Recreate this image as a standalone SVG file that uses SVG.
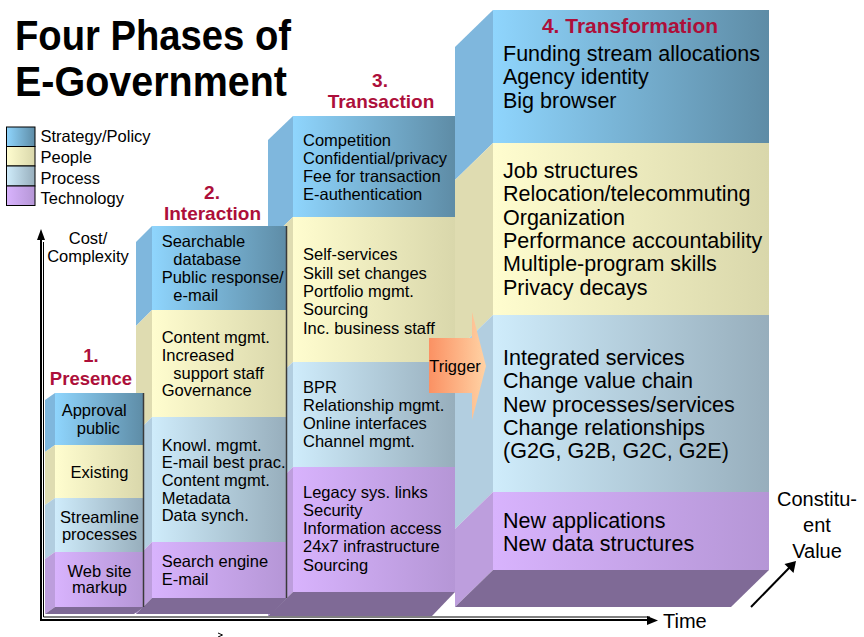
<svg xmlns="http://www.w3.org/2000/svg" width="864" height="637" viewBox="0 0 864 637">
<defs>
<linearGradient id="gS" x1="0" y1="0" x2="1" y2="0"><stop offset="0" stop-color="#8fd5fd"/><stop offset="1" stop-color="#5e8ca6"/></linearGradient>
<linearGradient id="gP" x1="0" y1="0" x2="1" y2="0"><stop offset="0" stop-color="#fffdcf"/><stop offset="1" stop-color="#d9d7ab"/></linearGradient>
<linearGradient id="gR" x1="0" y1="0" x2="1" y2="0"><stop offset="0" stop-color="#cfecfb"/><stop offset="1" stop-color="#97aebc"/></linearGradient>
<linearGradient id="gT" x1="0" y1="0" x2="1" y2="0"><stop offset="0" stop-color="#d8b3fd"/><stop offset="1" stop-color="#b596d6"/></linearGradient>
<linearGradient id="gTr" x1="0" y1="0" x2="1" y2="0"><stop offset="0" stop-color="#fb9163"/><stop offset="1" stop-color="#ffd2a4"/></linearGradient>
</defs>
<style>
.t{font-family:"Liberation Sans",Arial,sans-serif;font-size:16.5px;fill:#000}
.b{font-size:21.5px}
.c{text-anchor:middle}
.lab{font-family:"Liberation Sans",Arial,sans-serif;font-weight:bold;fill:#ad0f3a;font-size:19px;text-anchor:middle}
.fS{fill:url(#gS)}.fP{fill:url(#gP)}.fR{fill:url(#gR)}.fT{fill:url(#gT)}
.sS{fill:#7fb7dd}.sP{fill:#dfdcb1}.sR{fill:#b2cee0}.sT{fill:#bd9edd}
.bot{fill:#7f6a96}
.edge{stroke:#3a3a3a;stroke-width:1.5;fill:none}
.ax{stroke:#000;fill:none}
</style>
<rect width="864" height="637" fill="#fff"/>

<g id="title">
<text class="t" x="15" y="49.5" style="font-size:42px;font-weight:bold" textLength="276" lengthAdjust="spacingAndGlyphs">Four Phases of</text>
<text class="t" x="15" y="96" style="font-size:42px;font-weight:bold" textLength="272" lengthAdjust="spacingAndGlyphs">E-Government</text>
</g>

<g id="legend">
<rect class="fS" x="6.5" y="127" width="28.5" height="19.5" stroke="#000" stroke-width="1"/>
<rect class="fP" x="6.5" y="146.5" width="28.5" height="19.5" stroke="#000" stroke-width="1"/>
<rect class="fR" x="6.5" y="166" width="28.5" height="20" stroke="#000" stroke-width="1"/>
<rect class="fT" x="6.5" y="186" width="28.5" height="19.5" stroke="#000" stroke-width="1"/>
<text class="t" x="40.5" y="142">Strategy/Policy</text>
<text class="t" x="40.5" y="163">People</text>
<text class="t" x="40.5" y="183.5">Process</text>
<text class="t" x="40.5" y="204">Technology</text>
</g>

<g id="axes">
<path class="ax" d="M41,620 V238" stroke-width="2"/>
<path d="M41,229 L45,240 L37,240 z" fill="#000"/>
<path class="ax" d="M43.5,242 V617 H650" stroke-width="1"/>
<path class="ax" d="M40,620 H652" stroke-width="2"/>
<path d="M658,620.5 L647,616 L647,625 z" fill="#000"/>
<path class="ax" d="M751,607 L790,567" stroke-width="2"/>
<path d="M796,561 L793.5,573 L784.5,564 z" fill="#000"/>
<path class="ax" d="M218,633 L222.5,635 L218,637" stroke-width="1"/>
<text class="t" x="88" y="244" text-anchor="middle">Cost/</text>
<text class="t" x="88" y="262" text-anchor="middle">Complexity</text>
<text class="t" x="663" y="628" style="font-size:20px">Time</text>
<text class="t c" x="817" y="506" style="font-size:20px">Constitu-</text>
<text class="t c" x="817" y="532" style="font-size:20px">ent</text>
<text class="t c" x="817" y="558" style="font-size:20px">Value</text>
</g>

<g id="phase4">
<polygon class="sS" points="493,10 455,47 455,180 493,143"/>
<polygon class="sP" points="493,143 455,180 455,352 493,315"/>
<polygon class="sR" points="493,315 455,352 455,529 493,492"/>
<polygon class="sT" points="493,492 455,529 455,607 493,570"/>
<polygon class="bot" points="493,570 769,570 731,607 455,607"/>
<rect class="fS" x="493" y="10" width="276" height="133"/>
<rect class="fP" x="493" y="143" width="276" height="172"/>
<rect class="fR" x="493" y="315" width="276" height="177"/>
<rect class="fT" x="493" y="492" width="276" height="78"/>
<text class="lab" x="630" y="32.5" style="font-size:21px">4. Transformation</text>
<text class="t b" x="503" y="61">Funding stream allocations</text>
<text class="t b" x="503" y="84.3">Agency identity</text>
<text class="t b" x="503" y="107.6">Big browser</text>
<text class="t b" x="503" y="178">Job structures</text>
<text class="t b" x="503" y="201.3">Relocation/telecommuting</text>
<text class="t b" x="503" y="224.6">Organization</text>
<text class="t b" x="503" y="248">Performance accountability</text>
<text class="t b" x="503" y="271.3">Multiple-program skills</text>
<text class="t b" x="503" y="294.6">Privacy decays</text>
<text class="t b" x="503" y="365">Integrated services</text>
<text class="t b" x="503" y="388.3">Change value chain</text>
<text class="t b" x="503" y="411.6">New processes/services</text>
<text class="t b" x="503" y="435">Change relationships</text>
<text class="t b" x="503" y="458.3">(G2G, G2B, G2C, G2E)</text>
<text class="t b" x="503" y="527.7">New applications</text>
<text class="t b" x="503" y="550.5">New data structures</text>
</g>

<g id="phase3">
<polygon class="sS" points="293,116 268,140 268,241 293,217"/>
<polygon class="sP" points="293,217 268,241 268,386 293,362"/>
<polygon class="sR" points="293,362 268,386 268,491 293,467"/>
<polygon class="sT" points="293,467 268,491 268,616 293,592"/>
<polygon class="bot" points="293,592 455,592 432,616 268,616"/>
<rect class="fS" x="293" y="116" width="162" height="101"/>
<rect class="fP" x="293" y="217" width="162" height="145"/>
<rect class="fR" x="293" y="362" width="162" height="105"/>
<rect class="fT" x="293" y="467" width="162" height="125"/>
<text class="lab" x="380" y="87">3.</text>
<text class="lab" x="381" y="108">Transaction</text>
<text class="t" x="303" y="145.5">Competition</text>
<text class="t" x="303" y="163.8">Confidential/privacy</text>
<text class="t" x="303" y="182">Fee for transaction</text>
<text class="t" x="303" y="200.3">E-authentication</text>
<text class="t" x="303" y="260.3">Self-services</text>
<text class="t" x="303" y="278.6">Skill set changes</text>
<text class="t" x="303" y="297">Portfolio mgmt.</text>
<text class="t" x="303" y="315.3">Sourcing</text>
<text class="t" x="303" y="333.6">Inc. business staff</text>
<text class="t" x="303" y="392.5">BPR</text>
<text class="t" x="303" y="410.8">Relationship mgmt.</text>
<text class="t" x="303" y="429">Online interfaces</text>
<text class="t" x="303" y="447.3">Channel mgmt.</text>
<text class="t" x="303" y="497.5">Legacy sys. links</text>
<text class="t" x="303" y="515.8">Security</text>
<text class="t" x="303" y="534">Information access</text>
<text class="t" x="303" y="552.3">24x7 infrastructure</text>
<text class="t" x="303" y="570.5">Sourcing</text>
</g>

<g id="phase2">
<polygon class="sS" points="152,226 136,242 136,326 152,310"/>
<polygon class="sP" points="152,310 136,326 136,433 152,417"/>
<polygon class="sR" points="152,417 136,433 136,558 152,542"/>
<polygon class="sT" points="152,542 136,558 136,614 152,598"/>
<polygon class="bot" points="152,598 287,598 271,614 136,614"/>
<rect class="fS" x="152" y="226" width="135" height="84"/>
<rect class="fP" x="152" y="310" width="135" height="107"/>
<rect class="fR" x="152" y="417" width="135" height="125"/>
<rect class="fT" x="152" y="542" width="135" height="56"/>
<line class="edge" x1="286.5" y1="226" x2="286.5" y2="598"/>
<text class="lab" x="212" y="199">2.</text>
<text class="lab" x="212.5" y="220">Interaction</text>
<text class="t" x="161.7" y="247.3">Searchable</text>
<text class="t" x="173.3" y="265">database</text>
<text class="t" x="161.7" y="283">Public response/</text>
<text class="t" x="173.3" y="300.5">e-mail</text>
<text class="t" x="161.7" y="343.3">Content mgmt.</text>
<text class="t" x="161.7" y="361">Increased</text>
<text class="t" x="173.3" y="378.6">support staff</text>
<text class="t" x="161.7" y="396.3">Governance</text>
<text class="t" x="161.7" y="450.7">Knowl. mgmt.</text>
<text class="t" x="161.7" y="468.4">E-mail best prac.</text>
<text class="t" x="161.7" y="486">Content mgmt.</text>
<text class="t" x="161.7" y="503.7">Metadata</text>
<text class="t" x="161.7" y="521.4">Data synch.</text>
<text class="t" x="161.7" y="567">Search engine</text>
<text class="t" x="161.7" y="584.6">E-mail</text>
</g>

<g id="phase1">
<polygon class="sS" points="55,393 45,400 45,452 55,445"/>
<polygon class="sP" points="55,445 45,452 45,505 55,498"/>
<polygon class="sR" points="55,498 45,505 45,559 55,552"/>
<polygon class="sT" points="55,552 45,559 45,614 55,607"/>
<polygon class="bot" points="55,607 144,607 134,614 45,614"/>
<rect class="fS" x="55" y="393" width="89" height="52"/>
<rect class="fP" x="55" y="445" width="89" height="53"/>
<rect class="fR" x="55" y="498" width="89" height="54"/>
<rect class="fT" x="55" y="552" width="89" height="55"/>
<line class="edge" x1="143.5" y1="393" x2="143.5" y2="607"/>
<text class="lab" x="91" y="362" style="font-size:18.5px">1.</text>
<text class="lab" x="91" y="385" style="font-size:18.5px">Presence</text>
<text class="t c" x="94.2" y="416">Approval</text>
<text class="t c" x="98.3" y="433.5">public</text>
<text class="t c" x="99.5" y="478">Existing</text>
<text class="t c" x="99.5" y="523.3">Streamline</text>
<text class="t c" x="99.5" y="539.5">processes</text>
<text class="t c" x="99.5" y="576.7">Web site</text>
<text class="t c" x="99.5" y="593">markup</text>
</g>

<g id="trigger">
<polygon fill="url(#gTr)" points="429,338 472,338 472,312 486,366 472,420 472,393 429,393"/>
<text class="t c" x="455" y="371.5">Trigger</text>
</g>
</svg>
